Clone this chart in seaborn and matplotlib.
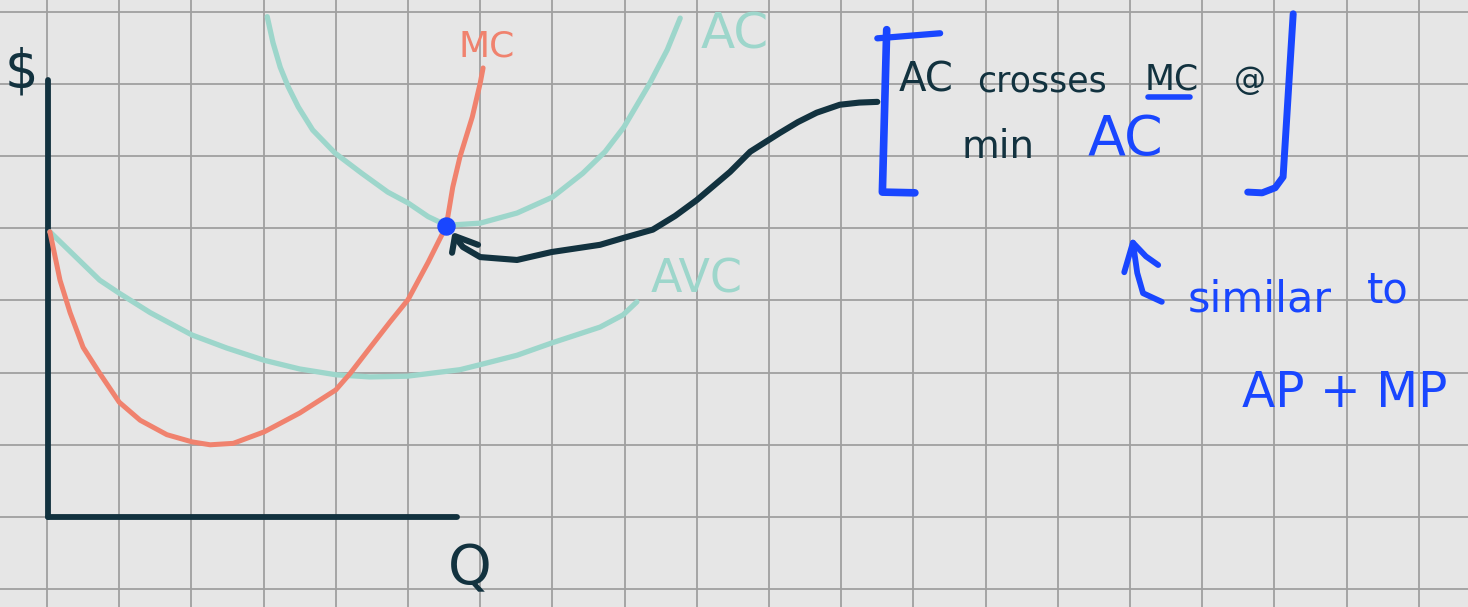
import matplotlib
matplotlib.use("Agg")
import matplotlib.pyplot as plt
import seaborn as sns

# Cost curves in grid units: quantity (x) and dollars (y)
mc_q = [0.04, 0.18, 0.32, 0.50, 0.73, 1.00, 1.29, 1.66, 2.01, 2.26, 2.58, 3.01, 3.50,
        4.00, 4.20, 4.47, 4.75, 5.00, 5.28, 5.53, 5.62, 5.72, 5.89, 6.00, 6.04]
mc_cost = [3.95, 3.28, 2.83, 2.35, 1.99, 1.59, 1.34, 1.14, 1.04, 1.00, 1.02, 1.18, 1.44,
           1.76, 1.99, 2.34, 2.70, 3.01, 3.53, 4.03, 4.57, 4.99, 5.54, 6.01, 6.22]

avc_q = [0.04, 0.73, 1.00, 1.43, 2.01, 2.49, 3.01, 3.50, 4.00, 4.47, 4.99, 5.72, 6.00,
         6.51, 6.99, 7.66, 7.98, 8.17]
avc_cost = [3.95, 3.28, 3.10, 2.83, 2.52, 2.34, 2.17, 2.05, 1.97, 1.94, 1.95, 2.04, 2.11,
            2.24, 2.41, 2.63, 2.80, 2.98]

ac_q = [3.05, 3.13, 3.23, 3.34, 3.48, 3.68, 3.99, 4.36, 4.72, 5.00, 5.28, 5.47, 5.54,
        6.00, 6.51, 7.00, 7.42, 7.73, 7.99, 8.35, 8.59, 8.77]
ac_cost = [6.93, 6.57, 6.23, 5.96, 5.68, 5.36, 5.04, 4.76, 4.50, 4.35, 4.16, 4.07, 4.04,
           4.07, 4.21, 4.43, 4.76, 5.06, 5.40, 6.01, 6.47, 6.91]

# Point where AC meets MC (minimum AC)
min_ac_q = [5.53]
min_ac_cost = [4.03]

# Axes of the sketch
yaxis_x = [0.01, 0.01]
yaxis_y = [6.05, 0.0]
xaxis_x = [0.01, 5.68]
xaxis_y = [0.0, 0.0]

# Pointer from the note to the minimum of AC
pointer_x = [11.50, 11.25, 10.98, 10.66, 10.40, 10.15, 9.74, 9.46, 9.00, 8.70, 8.39,
             8.00, 7.66, 6.99, 6.51, 6.00, 5.76, 5.65]
pointer_y = [5.75, 5.74, 5.71, 5.60, 5.47, 5.32, 5.06, 4.78, 4.39, 4.17, 3.98,
             3.87, 3.77, 3.67, 3.56, 3.60, 3.74, 3.88]
pointer_head_x = [5.97, 5.65, 5.61]
pointer_head_y = [3.77, 3.89, 3.66]

# Brackets around the note
lbr_top_x = [11.50, 12.37]
lbr_top_y = [6.63, 6.70]
lbr_x = [11.63, 11.57, 12.02]
lbr_y = [6.75, 4.50, 4.49]
rbr_x = [17.26, 17.22, 17.12, 17.01, 16.83, 16.63]
rbr_y = [6.97, 6.33, 4.71, 4.56, 4.49, 4.50]

# Small curved arrow above "similar to"
up_x = [15.44, 15.18, 15.10, 15.04]
up_y = [2.98, 3.10, 3.38, 3.80]
up_head_x = [14.92, 15.04, 15.22, 15.39]
up_head_y = [3.39, 3.80, 3.61, 3.49]

# Underline under "MC" in the note
underline_x = [15.25, 15.83]
underline_y = [5.82, 5.82]

SALMON = "#f0826e"
TEAL = "#9dd6cb"
NAVY = "#12323f"
BLUE = "#1946ff"
PAPER = "#e6e6e6"

sns.set_theme(style="whitegrid")
plt.rcParams["font.family"] = ["DejaVu Sans"]

fig = plt.figure(figsize=(14.68, 6.07), dpi=100)
fig.patch.set_facecolor(PAPER)
ax = fig.add_axes([0, 0, 1, 1])
ax.set_facecolor(PAPER)
ax.set_xlim(-0.651, 19.681)
ax.set_ylim(-1.247, 7.161)
ax.set_xticks(range(0, 20))
ax.set_yticks(range(-1, 8))
ax.grid(True, color="#a0a0a0", lw=1.3)
ax.set_axisbelow(True)
ax.tick_params(length=0, labelbottom=False, labelleft=False)
for s in ax.spines.values():
    s.set_visible(False)


def stroke(x, y, color, lw):
    sns.lineplot(x=x, y=y, sort=False, estimator=None, color=color, lw=lw,
                 solid_capstyle="round", solid_joinstyle="round", ax=ax)


# axes
stroke(yaxis_x, yaxis_y, NAVY, 4.2)
stroke(xaxis_x, xaxis_y, NAVY, 4.2)

# cost curves
stroke(avc_q, avc_cost, TEAL, 3.8)
stroke(ac_q, ac_cost, TEAL, 3.8)
stroke(mc_q, mc_cost, SALMON, 3.6)

# pointer arrow
stroke(pointer_x, pointer_y, NAVY, 4.4)
stroke(pointer_head_x, pointer_head_y, NAVY, 4.4)

sns.scatterplot(x=min_ac_q, y=min_ac_cost, s=150, color=BLUE, edgecolor=BLUE,
                linewidth=1, zorder=5, ax=ax)

# brackets and blue marks
stroke(lbr_top_x, lbr_top_y, BLUE, 4.5)
stroke(lbr_x, lbr_y, BLUE, 5.5)
stroke(rbr_x, rbr_y, BLUE, 5.0)
stroke(up_x, up_y, BLUE, 4.2)
stroke(up_head_x, up_head_y, BLUE, 4.2)
stroke(underline_x, underline_y, BLUE, 4.0)

# labels
ax.text(-0.35, 6.16, "$", color=NAVY, fontsize=38, ha="center", va="center")
ax.text(5.86, -0.73, "Q", color=NAVY, fontsize=40, ha="center", va="center")
ax.text(6.09, 6.51, "MC", color=SALMON, fontsize=26, ha="center", va="center")
ax.text(9.53, 6.68, "AC", color=TEAL, fontsize=36, ha="center", va="center")
ax.text(9.00, 3.28, "AVC", color=TEAL, fontsize=33, ha="center", va="center")

# note
ax.text(12.17, 6.05, "AC", color=NAVY, fontsize=29, ha="center", va="center")
ax.text(13.78, 6.03, "crosses", color=NAVY, fontsize=25, ha="center", va="center")
ax.text(15.58, 6.06, "MC", color=NAVY, fontsize=25, ha="center", va="center")
ax.text(16.66, 6.05, "@", color=NAVY, fontsize=23, ha="center", va="center")
ax.text(13.17, 5.12, "min", color=NAVY, fontsize=28, ha="center", va="center")
ax.text(14.93, 5.22, "AC", color=BLUE, fontsize=40, ha="center", va="center")

ax.text(16.80, 3.01, "similar", color=BLUE, fontsize=31, ha="center", va="center")
ax.text(18.57, 3.14, "to", color=BLUE, fontsize=30, ha="center", va="center")
ax.text(17.98, 1.72, "AP + MP", color=BLUE, fontsize=35, ha="center", va="center")

fig.savefig("out.png", dpi=100, facecolor=PAPER)
